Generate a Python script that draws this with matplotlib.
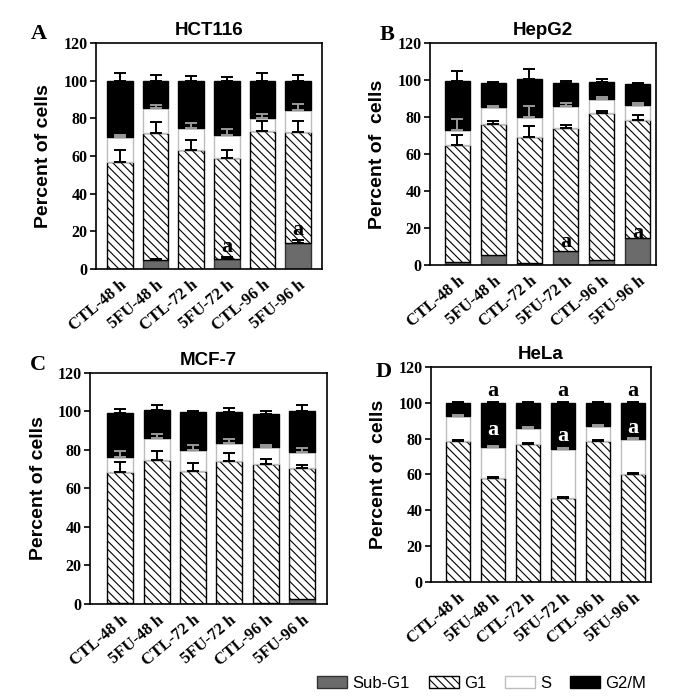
import numpy as np
import matplotlib
matplotlib.use("Agg")
from matplotlib import pyplot as plt
from matplotlib.patches import Patch

groups = ["CTL-48 h", "5FU-48 h", "CTL-72 h", "5FU-72 h", "CTL-96 h", "5FU-96 h"]
phases = ["Sub-G1", "G1", "S", "G2/M"]
yticks = [0, 20, 40, 60, 80, 100, 120]

# HCT116
hct_sub = [0, 5.0, 0, 5.5, 0, 13.8]
hct_g1 = [56.8, 67.2, 63.4, 53.6, 73.1, 58.9]
hct_s = [13.5, 13.3, 11.8, 12.1, 7.1, 11.9]
hct_g2m = [29.7, 14.5, 24.8, 28.8, 19.8, 15.4]
hct_err_sub = [0, 0.3, 0, 0.9, 0, 1.4]
hct_err_g1 = [6.2, 6.0, 5.4, 4.3, 5.5, 5.9]
hct_err_s = [0.7, 1.9, 2.5, 3.0, 2.1, 3.2]
hct_err_g2m = [4.4, 3.2, 2.7, 1.8, 4.4, 3.2]

# HepG2
hep_sub = [1.6, 5.4, 1.1, 7.4, 2.5, 14.4]
hep_g1 = [63.3, 71.0, 68.1, 66.8, 79.5, 63.8]
hep_s = [7.9, 9.0, 11.0, 11.9, 7.9, 8.6]
hep_g2m = [26.5, 13.0, 20.5, 12.6, 9.2, 11.2]
hep_err_sub = [0, 0, 0, 0, 0, 0]
hep_err_g1 = [5.4, 1.6, 5.9, 1.7, 1.1, 3.2]
hep_err_s = [5.9, 0.7, 5.9, 1.3, 1.1, 0.9]
hep_err_g2m = [5.4, 0.7, 5.4, 0.9, 1.6, 0.3]

# MCF-7
mcf_sub = [0.3, 0, 0, 0, 0.3, 2.6]
mcf_g1 = [68.1, 74.8, 69.1, 74.3, 72.4, 68.2]
mcf_s = [8.1, 11.6, 10.9, 9.1, 9.0, 8.3]
mcf_g2m = [22.8, 14.5, 19.8, 16.4, 17.1, 21.2]
mcf_err_sub = [0, 0, 0, 0, 0, 0]
mcf_err_g1 = [5.2, 4.8, 4.1, 4.3, 2.8, 1.4]
mcf_err_s = [3.1, 1.7, 2.7, 2.1, 1.0, 1.7]
mcf_err_g2m = [2.1, 2.6, 0.5, 2.1, 1.2, 2.8]

# HeLa
hela_sub = [0, 0, 0, 0, 0, 0]
hela_g1 = [78.9, 58.0, 77.2, 46.7, 78.9, 60.1]
hela_s = [13.9, 17.2, 8.6, 27.5, 8.0, 19.9]
hela_g2m = [7.2, 24.8, 14.2, 25.8, 13.1, 20.0]
hela_err_sub = [0, 0, 0, 0, 0, 0]
hela_err_g1 = [0.5, 0.5, 0.5, 0.5, 0.5, 0.5]
hela_err_s = [0.5, 0.5, 0.5, 0.5, 0.5, 0.5]
hela_err_g2m = [0.5, 0.5, 0.5, 0.5, 0.5, 0.5]

# significance marks: (bar index, y, colour)
hct_marks = [(3, 11.7, "black"), (5, 20.9, "black")]
hep_marks = [(3, 12.3, "black"), (5, 17.3, "black")]
mcf_marks = []
hela_marks = [(1, 106.4, "black"), (3, 106.4, "black"), (5, 106.4, "black"),
              (1, 85.0, "white"), (3, 81.3, "white"), (5, 85.9, "white")]

panels = [
    ("A", "HCT116", [hct_sub, hct_g1, hct_s, hct_g2m],
     [hct_err_sub, hct_err_g1, hct_err_s, hct_err_g2m], hct_marks,
     [0.1395, 0.614, 0.3285, 0.324], (-0.67, 5.67), 0.72, (-0.29, 1.04)),
    ("B", "HepG2", [hep_sub, hep_g1, hep_s, hep_g2m],
     [hep_err_sub, hep_err_g1, hep_err_s, hep_err_g2m], hep_marks,
     [0.625, 0.620, 0.3285, 0.318], (-0.76, 5.51), 0.71, (-0.225, 1.035)),
    ("C", "MCF-7", [mcf_sub, mcf_g1, mcf_s, mcf_g2m],
     [mcf_err_sub, mcf_err_g1, mcf_err_s, mcf_err_g2m], mcf_marks,
     [0.131, 0.1334, 0.344, 0.3316], (-0.83, 5.68), 0.72, (-0.253, 1.035)),
    ("D", "HeLa", [hela_sub, hela_g1, hela_s, hela_g2m],
     [hela_err_sub, hela_err_g1, hela_err_s, hela_err_g2m], hela_marks,
     [0.6265, 0.165, 0.3195, 0.3085], (-0.76, 5.5), 0.68, (-0.25, 0.975)),
]

face = ["#6b6b6b", "white", "white", "black"]
edge = ["#333333", "black", "#bdbdbd", "black"]
hatch = [None, "\\\\\\\\", None, None]
ecol = ["black", "black", "#9a9a9a", "black"]

serif = "Liberation Serif"
sans = "Liberation Sans"
plt.rcParams["hatch.linewidth"] = 0.8

fig = plt.figure(figsize=(6.88, 6.97), dpi=100)

for letter, title, segs, errs, marks, rect, xlim, width, lpos in panels:
    ax = fig.add_axes(rect)
    x = np.arange(len(groups))
    bottom = np.zeros(len(groups))
    for k in range(4):
        vals = np.array(segs[k], dtype=float)
        ax.bar(x, vals, width, bottom=bottom, color=face[k], edgecolor=edge[k],
               hatch=hatch[k], linewidth=1.0, zorder=2)
        top = bottom + vals
        err = np.array(errs[k], dtype=float)
        m = err > 0
        if m.any():
            ax.errorbar(x[m], top[m], yerr=[np.zeros(m.sum()), err[m]], fmt="none",
                        ecolor=ecol[k], elinewidth=1.4, capsize=4.5, capthick=1.4,
                        zorder=3)
        bottom = top
    for i, y, c in marks:
        ax.text(i, y, "a", ha="center", va="center", color=c, fontsize=16,
                fontweight="bold", family=serif, zorder=4)

    ax.set_xlim(*xlim)
    ax.set_ylim(0, 120)
    ax.set_yticks(yticks)
    ax.set_yticklabels([str(t) for t in yticks], family=serif, fontweight="bold",
                       fontsize=11.5)
    ax.set_xticks(x)
    ax.set_xticklabels(groups, rotation=40, ha="right", rotation_mode="anchor",
                       family=serif, fontweight="bold", fontsize=12)
    ax.tick_params(axis="x", length=0, pad=6)
    ax.tick_params(axis="y", length=4, width=1.2, direction="out", pad=2)
    for sp in ax.spines.values():
        sp.set_linewidth(1.2)
    ax.set_ylabel("Percent of  cells" if letter in "BD" else "Percent of cells",
                  family=sans, fontweight="bold", fontsize=14, labelpad=8)
    ax.set_title(title, family=sans, fontweight="bold", fontsize=13.5, pad=6)
    ax.text(lpos[0], lpos[1], letter, transform=ax.transAxes,
            family=serif, fontweight="bold", fontsize=16, ha="left", va="center")

handles = [Patch(facecolor=face[k], edgecolor=edge[k], hatch=hatch[k], linewidth=1.0)
           for k in range(4)]
fig.legend(handles, phases, loc="center", bbox_to_anchor=(0.70, 0.02), ncol=4,
           frameon=False, prop={"family": sans, "size": 12}, handlelength=1.8,
           handleheight=0.7, handletextpad=0.3, columnspacing=1.15)

fig.savefig("out.png", dpi=100)
